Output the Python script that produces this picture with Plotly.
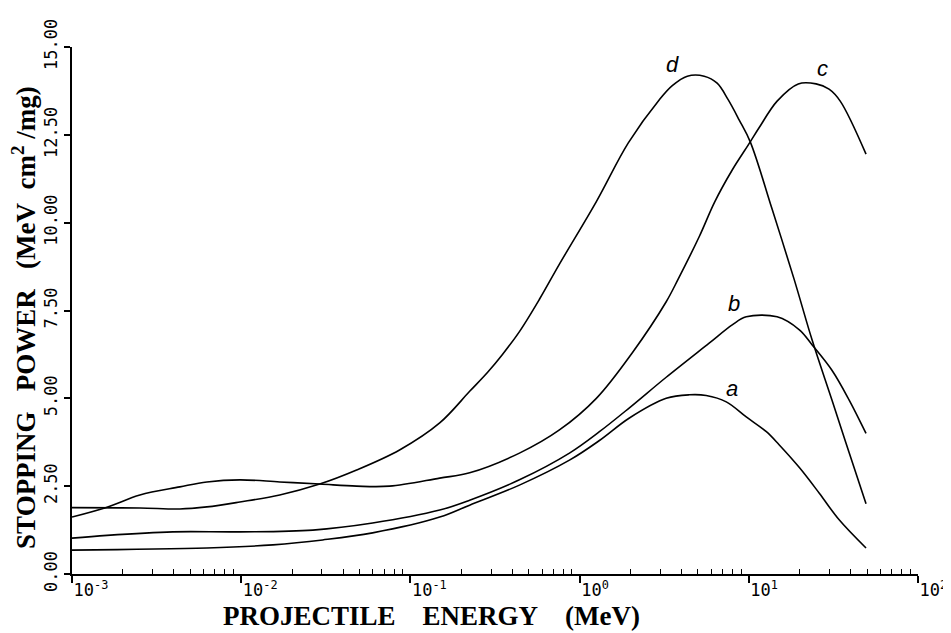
import plotly.graph_objects as go

# Data (energy in MeV, stopping power in MeV cm^2/mg)
energy_a = [0.001, 0.00627, 0.0154, 0.0303, 0.0598, 0.149, 0.224, 0.441, 0.871, 1.31, 1.97, 3.25, 4.45, 5.60, 7.36, 9.66, 12.7, 15.1, 19.9, 26.1, 34.1, 49.3]
power_a = [0.68, 0.74, 0.83, 0.97, 1.17, 1.62, 1.96, 2.53, 3.24, 3.8, 4.44, 5.0, 5.1, 5.08, 4.9, 4.47, 4.05, 3.68, 3.03, 2.3, 1.55, 0.74]

energy_b = [0.001, 0.00161, 0.00394, 0.00982, 0.0265, 0.0598, 0.149, 0.224, 0.441, 0.871, 1.31, 1.97, 3.25, 5.83, 7.98, 9.66, 14.7, 19.9, 23.7, 31.0, 39.2, 49.3]
power_b = [1.02, 1.1, 1.2, 1.2, 1.25, 1.45, 1.82, 2.1, 2.68, 3.44, 4.05, 4.73, 5.6, 6.57, 7.09, 7.32, 7.32, 6.95, 6.52, 5.8, 4.95, 4.0]

energy_c = [0.001, 0.00161, 0.00252, 0.00434, 0.00627, 0.00982, 0.0169, 0.0291, 0.0481, 0.0753, 0.149, 0.224, 0.441, 0.760, 1.256, 2.05, 3.25, 3.83, 5.09, 6.3, 7.98, 10.2, 11.5, 14.7, 19.6, 25.0, 29.8, 34.7, 49.3]
power_c = [1.62, 1.9, 2.25, 2.48, 2.62, 2.68, 2.62, 2.56, 2.5, 2.5, 2.73, 2.88, 3.44, 4.1, 5.0, 6.3, 7.75, 8.4, 9.6, 10.6, 11.5, 12.3, 12.7, 13.46, 13.95, 13.95, 13.8, 13.46, 11.95]

energy_d = [0.001, 0.00252, 0.00434, 0.00627, 0.00982, 0.0169, 0.0291, 0.0481, 0.0863, 0.149, 0.224, 0.287, 0.350, 0.441, 0.579, 0.760, 1.256, 1.94, 2.96, 3.53, 4.33, 5.45, 6.50, 7.55, 8.78, 10.2, 13.7, 18.5, 23.7, 31.0, 39.2, 49.3]
power_d = [1.89, 1.88, 1.85, 1.91, 2.05, 2.25, 2.56, 2.96, 3.53, 4.3, 5.2, 5.75, 6.25, 6.9, 7.82, 8.82, 10.6, 12.27, 13.5, 13.9, 14.17, 14.17, 13.97, 13.5, 12.92, 12.3, 10.4, 8.4, 6.65, 4.95, 3.45, 2.0]

curve_names = ["a", "b", "c", "d"]
x_decades = [-3, -2, -1, 0, 1, 2]
x_tick_text = ["10<sup>-3</sup>", "10<sup>-2</sup>", "10<sup>-1</sup>", "10<sup>0</sup>", "10<sup>1</sup>", "10<sup>2</sup>"]
y_ticks = [0.0, 2.5, 5.0, 7.5, 10.0, 12.5, 15.0]

fig = go.Figure()
for name, xs, ys in zip(curve_names,
                        [energy_a, energy_b, energy_c, energy_d],
                        [power_a, power_b, power_c, power_d]):
    fig.add_trace(go.Scatter(x=xs, y=ys, mode="lines", name=name,
                             line=dict(color="black", width=1.6, shape="spline", smoothing=1.0),
                             showlegend=False))

label_pos = {"a": (0.902, 5.29), "b": (0.914, 7.71), "c": (1.433, 14.40), "d": (0.548, 14.49)}
for name in curve_names:
    lx, ly = label_pos[name]
    fig.add_annotation(x=lx, y=ly, xref="x", yref="y", text="<i>%s</i>" % name,
                       showarrow=False, font=dict(family="Liberation Sans", size=22, color="black"))

title_font = dict(family="Liberation Serif", size=27, color="black", weight="bold")
fig.add_annotation(xref="paper", yref="paper", x=0.4255, y=-0.08, xanchor="center", yanchor="middle",
                   text="PROJECTILE&nbsp;&nbsp;&nbsp;&nbsp;ENERGY&nbsp;&nbsp;&nbsp;&nbsp;(MeV)",
                   showarrow=False, font=title_font)
fig.add_annotation(xref="paper", yref="paper", x=-0.0567, y=0.486, xanchor="center", yanchor="middle",
                   textangle=-90,
                   text="STOPPING&nbsp;&nbsp;&nbsp;POWER&nbsp;&nbsp;&nbsp;(MeV&nbsp;&nbsp;cm<sup>2</sup>&nbsp;/mg)",
                   showarrow=False, font=title_font)

tick_vals = [10.0 ** k for k in x_decades]
minor_vals = [m * 10.0 ** k for k in x_decades[:-1] for m in range(2, 10)]

fig.update_layout(
    width=943, height=625,
    margin=dict(l=64, r=33, t=39, b=59),
    paper_bgcolor="white", plot_bgcolor="white",
    xaxis=dict(
        type="log", range=[-3, 2], automargin=False,
        tickmode="array", tickvals=tick_vals, ticktext=x_tick_text,
        ticks="outside", ticklen=7, tickwidth=1.5, tickcolor="black",
        ticklabelposition="outside right",
        minor=dict(tickmode="array", tickvals=minor_vals, ticks="inside", ticklen=5,
                   tickwidth=1.3, tickcolor="black", showgrid=False),
        showline=True, linecolor="black", linewidth=1.6,
        showgrid=False, zeroline=False,
        tickfont=dict(family="DejaVu Sans Mono", size=17, color="black"),
    ),
    yaxis=dict(
        range=[0, 15], automargin=False,
        tickmode="array", tickvals=y_ticks, tickformat=".2f",
        ticks="outside", ticklen=6, tickwidth=1.5, tickcolor="black",
        tickangle=-90,
        showline=True, linecolor="black", linewidth=1.6,
        showgrid=False, zeroline=False,
        tickfont=dict(family="DejaVu Sans Mono", size=17, color="black"),
    ),
)

fig.write_html("out.html")
